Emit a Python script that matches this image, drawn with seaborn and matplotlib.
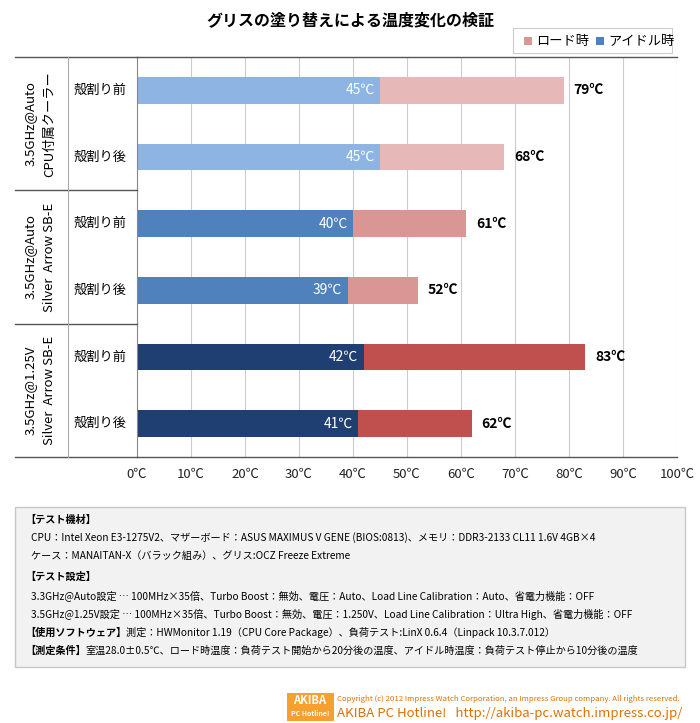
import matplotlib
matplotlib.use("Agg")
import matplotlib.pyplot as plt
import seaborn as sns
import pandas as pd
from matplotlib.patches import Rectangle
from matplotlib.lines import Line2D

plt.rcParams["font.family"] = ["Noto Sans CJK JP", "DejaVu Sans"]

title = "グリスの塗り替えによる温度変化の検証"
groups = ["3.5GHz@Auto\nCPU付属クーラー", "3.5GHz@Auto\nSilver  Arrow SB-E", "3.5GHz@1.25V\nSilver  Arrow SB-E"]
subcats = ["殻割り前", "殻割り後", "殻割り前", "殻割り後", "殻割り前", "殻割り後"]
idle = [45, 45, 40, 39, 42, 41]
load = [79, 68, 61, 52, 83, 62]
idle_colors = ["#8db4e2", "#8db4e2", "#4f81bd", "#4f81bd", "#1f3f73", "#1f3f73"]
load_colors = ["#e6b9b8", "#e6b9b8", "#da9694", "#da9694", "#c0504d", "#c0504d"]
xticks = list(range(0, 101, 10))
notes = [
    ("【テスト機材】", True, 0.0),
    ("CPU：Intel Xeon E3-1275V2、マザーボード：ASUS MAXIMUS V GENE (BIOS:0813)、メモリ：DDR3-2133 CL11 1.6V 4GB×4", False, 0.008),
    ("ケース：MANAITAN-X（バラック組み）、グリス:OCZ Freeze Extreme", False, 0.008),
    ("【テスト設定】", True, 0.0),
    ("3.3GHz@Auto設定 … 100MHz×35倍、Turbo Boost：無効、電圧：Auto、Load Line Calibration：Auto、省電力機能：OFF", False, 0.008),
    ("3.5GHz@1.25V設定 … 100MHz×35倍、Turbo Boost：無効、電圧：1.250V、Load Line Calibration：Ultra High、省電力機能：OFF", False, 0.008),
    ("【使用ソフトウェア】測定：HWMonitor 1.19（CPU Core Package）、負荷テスト:LinX 0.6.4（Linpack 10.3.7.012）", "part", 0.0),
    ("【測定条件】室温28.0±0.5℃、ロード時温度：負荷テスト開始から20分後の温度、アイドル時温度：負荷テスト停止から10分後の温度", "part", 0.0),
]

W, H = 700, 723
fig = plt.figure(figsize=(7, 7.23), dpi=100)
fig.patch.set_facecolor("white")
ax = fig.add_axes([137/W, 1-457/H, 540/W, 400/H])

rows = [str(i) for i in range(6)]
df = pd.DataFrame({"row": rows, "idle": idle, "load": load})
sns.barplot(data=df, x="load", y="row", hue="row", palette=load_colors, legend=False,
            width=0.4, ax=ax, orient="h", saturation=1)
sns.barplot(data=df, x="idle", y="row", hue="row", palette=idle_colors, legend=False,
            width=0.4, ax=ax, orient="h", saturation=1)
ax.set_xlim(0, 100)
ax.set_ylim(5.5, -0.5)
ax.set_xticks(xticks)
ax.set_xticklabels([f"{t}℃" for t in xticks], fontsize=9.5, color="#222222")
ax.set_yticks([])
ax.set_xlabel(""); ax.set_ylabel("")
ax.tick_params(axis="x", length=0, pad=8)
ax.grid(axis="x", color="#cccccc", lw=0.8)
ax.set_axisbelow(True)
for s in ["top", "bottom"]:
    ax.spines[s].set_color("#555555"); ax.spines[s].set_linewidth(1)
ax.spines["left"].set_color("#888888")
ax.spines["right"].set_visible(False)

for i in range(6):
    ax.text(idle[i] - 1, i, f"{idle[i]}℃", ha="right", va="center", color="white", fontsize=10)
    ax.text(load[i] + 1.8, i, f"{load[i]}℃", ha="left", va="center", color="black", fontsize=10, fontweight="bold")

y0, y1 = 1-457/H, 1-57/H
def fy(pos):  # pos in row units from top (0 = top edge)
    return y1 - pos / 6 * (y1 - y0)
for b in [0, 2, 4, 6]:
    fig.add_artist(Line2D([15/W, 137/W], [fy(b)]*2, color="#555555", lw=1))
fig.add_artist(Line2D([68/W, 68/W], [y0, y1], color="#aaaaaa", lw=0.8))
for i, s in enumerate(subcats):
    fig.text(100/W, fy(i + 0.5), s, ha="center", va="center", fontsize=9.5)
for g, name in enumerate(groups):
    fig.text(40/W, fy(2*g + 1), name, ha="center", va="center", rotation=90, fontsize=9.5, linespacing=1.6)

fig.text(0.5, 1-20/H, title, ha="center", va="center", fontsize=11.5, fontweight="bold")
fig.add_artist(Rectangle((513/W, 1-53/H), 159/W, 25/H, fill=False, ec="#cccccc", lw=0.8))
fig.add_artist(Rectangle((524/W, 1-45/H), 8/W, 8/H, fc="#da9694", ec="none"))
fig.text(536/W, 1-41/H, "ロード時", va="center", fontsize=9.5)
fig.add_artist(Rectangle((596/W, 1-45/H), 8/W, 8/H, fc="#4f81bd", ec="none"))
fig.text(608/W, 1-41/H, "アイドル時", va="center", fontsize=9.5)

fig.add_artist(Rectangle((15/W, 1-667/H), 670/W, 160/H, fc="#f2f2f2", ec="#c8c8c8", lw=1))
ys = [520, 538, 556, 577, 596, 614, 633, 651]
for (t, b, ind), yy in zip(notes, ys):
    x = 25/W + ind
    if b == "part":
        k = t.index("】") + 1
        tt = fig.text(x, 1-yy/H, t[:k], va="center", fontsize=7.3, fontweight="bold")
        fig.canvas.draw()
        bb = tt.get_window_extent()
        fig.text(bb.x1/W, 1-yy/H, t[k:], va="center", fontsize=7.3)
    else:
        fig.text(x, 1-yy/H, t, va="center", fontsize=7.3, fontweight="bold" if b else "normal")

fig.add_artist(Rectangle((287/W, 1-721/H), 47/W, 28/H, fc="#f7a030", ec="none"))
fig.text(310/W, 1-700/H, "AKIBA", ha="center", va="center", color="white", fontsize=8, fontweight="bold")
fig.text(310/W, 1-714/H, "PC Hotline!", ha="center", va="center", color="white", fontsize=5, fontweight="bold")
fig.text(337/W, 1-699/H, "Copyright (c) 2012 Impress Watch Corporation, an Impress Group company. All rights reserved.",
         va="center", fontsize=5.6, color="#e07000")
fig.text(337/W, 1-714/H, "AKIBA PC Hotline!   http://akiba-pc.watch.impress.co.jp/",
         va="center", fontsize=9.5, color="#e07000")

fig.savefig("out.png", dpi=100)
